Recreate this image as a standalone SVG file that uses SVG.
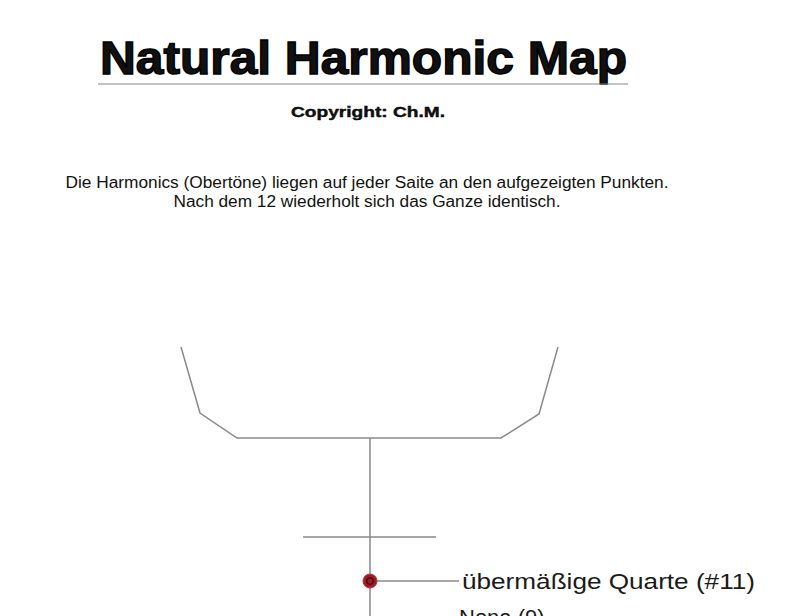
<svg xmlns="http://www.w3.org/2000/svg" width="794" height="616" viewBox="0 0 794 616">
<style>
.t{font-family:"Liberation Sans",Arial,sans-serif;fill:#111}
.g{fill:none;stroke:#8a8a8a;stroke-width:1.5}
.lbl{font-family:"Liberation Sans",Arial,sans-serif;font-size:22px;fill:#1a1a1a}
</style>
<rect width="794" height="616" fill="#fff"/>
<g id="header">
<text class="t" x="100" y="74" font-size="46" font-weight="bold" stroke="#000" stroke-width="1.4" textLength="527" lengthAdjust="spacingAndGlyphs">Natural Harmonic Map</text>
<line x1="98" y1="84" x2="628" y2="84" stroke="#888" stroke-width="1.2"/>
<text class="t" x="291" y="117" font-size="15" font-weight="bold" stroke="#000" stroke-width="0.4" textLength="154" lengthAdjust="spacingAndGlyphs">Copyright: Ch.M.</text>
<text class="t" x="367" y="188" font-size="16" text-anchor="middle" textLength="603" lengthAdjust="spacingAndGlyphs">Die Harmonics (Obertöne) liegen auf jeder Saite an den aufgezeigten Punkten.</text>
<text class="t" x="367" y="207" font-size="16" text-anchor="middle" textLength="387" lengthAdjust="spacingAndGlyphs">Nach dem 12 wiederholt sich das Ganze identisch.</text>
</g>
<g id="headstock">
<polyline class="g" points="181,347 200,413 237,438 501,438 539,414 558,347"/>
</g>
<g id="neck">
<line class="g" x1="370" y1="438" x2="370" y2="616"/>
<line class="g" x1="303" y1="537" x2="436" y2="537"/>
</g>
<g id="connectors">
<line class="g" x1="377" y1="581" x2="459" y2="581" stroke="#777"/>
</g>
<g id="harmonic-11">
<circle cx="370" cy="581" r="7" fill="#9b1c24" stroke="#c0303a" stroke-width="1"/>
<circle cx="370" cy="581" r="3.2" fill="none" stroke="#3a0a0c" stroke-width="1.2"/>
<text class="lbl" x="462" y="589" textLength="293" lengthAdjust="spacingAndGlyphs">übermäßige Quarte (#11)</text>
</g>
<g id="harmonic-9">
<text class="lbl" x="459" y="625">Nona (9)</text>
</g>
</svg>
